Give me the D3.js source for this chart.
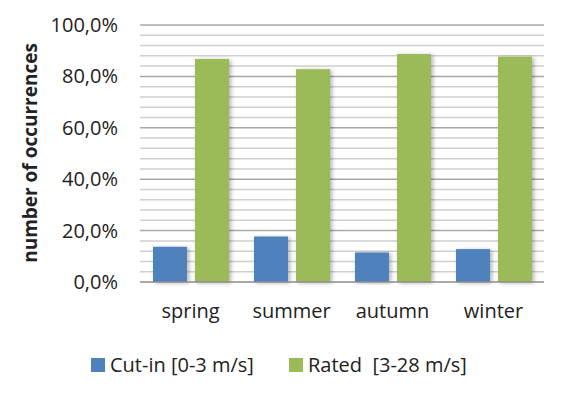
<!DOCTYPE html>
<html lang="en">
  <head>
    <meta charset="UTF-8" />
    <title>number of occurrences by season</title>
    <script src="https://cdnjs.cloudflare.com/ajax/libs/d3/7.8.5/d3.min.js"></script>
    <style>
      body { margin: 0; background: #fff; }
      text { font-family: "Open Sans", sans-serif; fill: #222; }
    </style>
  </head>
  <body>
    <div id="chart"></div>

    <script type="text/javascript">
      var seasons = ["spring", "summer", "autumn", "winter"];
      var seriesNames = ["Cut-in [0-3 m/s]", "Rated  [3-28 m/s]"];
      var cutIn = [13.7, 17.7, 11.5, 12.8];
      var rated = [86.8, 82.8, 88.7, 87.7];
      var yTicks = [0, 20, 40, 60, 80, 100];
      var colors = ["#4f81bd", "#9bbb59"];

      var width = 577, height = 395;
      var margin = { top: 25, right: 33, bottom: 113, left: 140 };

      var svg = d3.select("#chart").append("svg")
        .attr("width", width)
        .attr("height", height);

      /* soft shadow like the original bars */
      var defs = svg.append("defs");
      var f = defs.append("filter").attr("id", "shadow")
        .attr("x", "-20%").attr("y", "-5%").attr("width", "150%").attr("height", "115%");
      f.append("feDropShadow")
        .attr("dx", 2).attr("dy", 1).attr("stdDeviation", 2)
        .attr("flood-color", "#000").attr("flood-opacity", 0.3);

      var x = d3.scaleBand()
        .domain(seasons)
        .range([margin.left, width - margin.right]);

      var x1 = d3.scaleBand()
        .domain([0, 1])
        .range([13, x.bandwidth() - 12])
        .paddingInner(0.19);

      var y = d3.scaleLinear()
        .domain([0, 100])
        .range([height - margin.bottom, margin.top]);

      var fmt = function (d) { return d.toFixed(1).replace(".", ",") + "%"; };

      /* gridlines: minor every 4%, major every 20% */
      var g = svg.append("g");
      g.selectAll("line.minor")
        .data(d3.range(4, 100, 4).filter(function (d) { return d % 20 !== 0; }))
        .enter().append("line")
        .attr("x1", margin.left).attr("x2", width - margin.right)
        .attr("y1", function (d) { return y(d); })
        .attr("y2", function (d) { return y(d); })
        .attr("stroke", "#cfcfcf").attr("stroke-width", 1.5);
      g.selectAll("line.major")
        .data(yTicks.slice(1))
        .enter().append("line")
        .attr("x1", margin.left).attr("x2", width - margin.right)
        .attr("y1", function (d) { return y(d); })
        .attr("y2", function (d) { return y(d); })
        .attr("stroke", "#a8a8a8").attr("stroke-width", 1.5);

      var yAxis = svg.append("g")
        .attr("transform", "translate(" + margin.left + ",0)")
        .call(d3.axisLeft(y).tickValues(yTicks).tickFormat(fmt).tickSize(0).tickPadding(22));
      yAxis.select(".domain").remove();
      yAxis.selectAll("text")
        .style("font-size", "20px")
        .style("font-family", "Open Sans, sans-serif")
        .attr("fill", "#222");

      /* bars */
      var data = seasons.map(function (s, i) { return [cutIn[i], rated[i]]; });
      var groups = svg.append("g").selectAll("g")
        .data(data)
        .enter().append("g")
        .attr("transform", function (d, i) { return "translate(" + x(seasons[i]) + ",0)"; });
      groups.selectAll("rect")
        .data(function (d) { return d; })
        .enter().append("rect")
        .attr("x", function (d, j) { return x1(j); })
        .attr("width", x1.bandwidth())
        .attr("y", function (d) { return y(d); })
        .attr("height", function (d) { return y(0) - y(d); })
        .attr("fill", function (d, j) { return colors[j]; })
        .attr("filter", "url(#shadow)");

      /* baseline */
      svg.append("line")
        .attr("x1", margin.left).attr("x2", width - margin.right)
        .attr("y1", y(0)).attr("y2", y(0))
        .attr("stroke", "#8c8c8c").attr("stroke-width", 1.5);

      var xAxis = svg.append("g")
        .attr("transform", "translate(0," + y(0) + ")")
        .call(d3.axisBottom(x).tickSize(0).tickPadding(22));
      xAxis.select(".domain").remove();
      xAxis.selectAll("text")
        .style("font-size", "20px")
        .style("font-family", "Open Sans, sans-serif")
        .attr("fill", "#222");

      /* y axis title */
      svg.append("text")
        .attr("transform", "translate(37,153) rotate(-90)")
        .attr("text-anchor", "middle")
        .style("font-size", "19px")
        .style("font-weight", "bold")
        .text("number of occurrences");

      /* legend */
      var legendX = [91, 289];
      var legend = svg.append("g").selectAll("g")
        .data(seriesNames)
        .enter().append("g")
        .attr("transform", function (d, i) { return "translate(" + legendX[i] + ",358)"; });
      legend.append("rect")
        .attr("width", 14).attr("height", 14)
        .attr("fill", function (d, i) { return colors[i]; });
      legend.append("text")
        .attr("x", 19).attr("y", 7).attr("dy", "0.35em")
        .style("font-size", "20px")
        .style("white-space", "pre")
        .attr("xml:space", "preserve")
        .text(function (d) { return d; });
    </script>
  </body>
</html>
